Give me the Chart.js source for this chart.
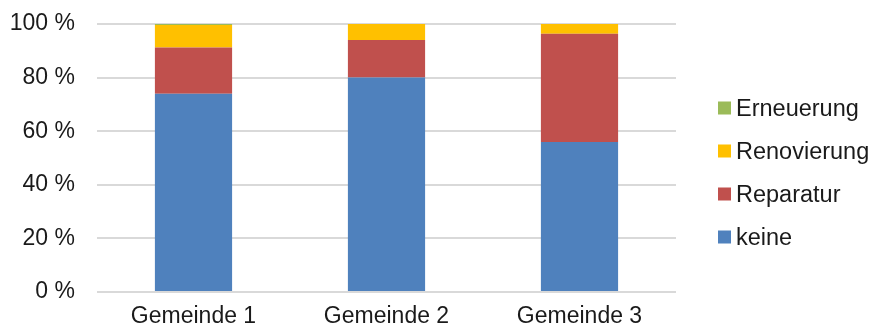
<!DOCTYPE html>
<html lang="de">
<head>
<meta charset="utf-8">
<title>Zustand nach Gemeinde</title>
<script src="https://cdn.jsdelivr.net/npm/chart.js@4/dist/chart.umd.min.js"></script>
<style>
  html, body { margin: 0; padding: 0; background: #ffffff; }
  #wrap { width: 873px; height: 329px; }
</style>
</head>
<body>
<div id="wrap"><canvas id="chart" width="873" height="329"></canvas></div>
<script>
// Kategorien und Anteile (in %) je Gemeinde
const categories = ['Gemeinde 1', 'Gemeinde 2', 'Gemeinde 3'];
const keine = [74, 80, 56];
const reparatur = [17.2, 14, 40.4];
const renovierung = [8.4, 6, 3.6];
const erneuerung = [0.4, 0, 0];
const yTicks = [0, 20, 40, 60, 80, 100];

const FONT = 'Liberation Sans, Arial, Helvetica, sans-serif';
const TEXT_COLOR = '#1a1a1a';
const FONT_SIZE = 23;
const LEGEND_FONT_SIZE = 23.5;

// Legende rechts neben dem Diagramm, oberster Stapel zuerst
const sideLegend = {
  id: 'sideLegend',
  afterDraw(chart) {
    const ctx = chart.ctx;
    const sets = chart.data.datasets.slice().reverse();
    const boxX = 718, box = 13, textX = 736, firstY = 108, step = 43;
    ctx.save();
    ctx.font = LEGEND_FONT_SIZE + 'px ' + FONT;
    ctx.textAlign = 'left';
    ctx.textBaseline = 'alphabetic';
    sets.forEach((ds, i) => {
      const cy = firstY + i * step;
      ctx.fillStyle = ds.backgroundColor;
      ctx.fillRect(boxX, cy - box / 2, box, box);
      ctx.fillStyle = TEXT_COLOR;
      ctx.fillText(ds.label, textX, cy + LEGEND_FONT_SIZE * 0.36);
    });
    ctx.restore();
  }
};

new Chart(document.getElementById('chart'), {
  type: 'bar',
  data: {
    labels: categories,
    datasets: [
      { label: 'keine', data: keine, backgroundColor: '#4f81bd' },
      { label: 'Reparatur', data: reparatur, backgroundColor: '#c0504d' },
      { label: 'Renovierung', data: renovierung, backgroundColor: '#ffc000' },
      { label: 'Erneuerung', data: erneuerung, backgroundColor: '#9bbb59' }
    ]
  },
  options: {
    responsive: false,
    animation: false,
    layout: { padding: { top: 24, right: 197, bottom: 0, left: 0 } },
    datasets: { bar: { categoryPercentage: 1, barPercentage: 0.4, borderWidth: 0 } },
    plugins: {
      legend: { display: false },
      tooltip: { enabled: false }
    },
    scales: {
      x: {
        stacked: true,
        grid: { display: false, drawTicks: false },
        border: { display: false },
        ticks: { color: TEXT_COLOR, font: { family: FONT, size: FONT_SIZE }, padding: 11, maxRotation: 0 },
        afterFit(scale) { scale.height = 37; }
      },
      y: {
        stacked: true,
        min: 0,
        max: 100,
        afterBuildTicks(scale) { scale.ticks = yTicks.map(v => ({ value: v })); },
        grid: { color: '#d9d9d9', lineWidth: 2, drawTicks: false },
        border: { display: false },
        ticks: {
          color: TEXT_COLOR,
          font: { family: FONT, size: FONT_SIZE },
          padding: 22,
          callback: v => v + ' %'
        },
        afterFit(scale) {
          scale.width = 97;
          scale.paddingTop = 0;
          scale.paddingBottom = 0;
        }
      }
    }
  },
  plugins: [sideLegend]
});
</script>
</body>
</html>
